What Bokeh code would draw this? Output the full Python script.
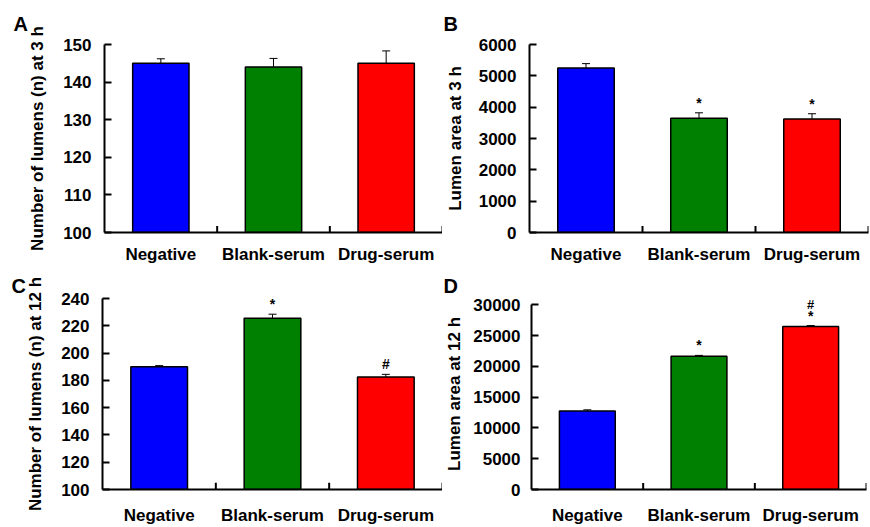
from bokeh.plotting import figure
from bokeh.layouts import column, row
from bokeh.models import (ColumnDataSource, FixedTicker, Range1d, Whisker,
                          TeeHead, LabelSet)
from bokeh.core.properties import value
from bokeh.embed import file_html
from bokeh.resources import INLINE

# ---------------- data ----------------
groups = ["Negative", "Blank-serum", "Drug-serum"]
bar_colors = ["#0000ff", "#008000", "#ff0000"]

a_values = [145, 144, 145]
a_errors = [1.2, 2.3, 3.3]
a_marks = ["", "", ""]
a_marks2 = ["", "", ""]
a_ticks = [100, 110, 120, 130, 140, 150]
a_ylabel = "Number of lumens (n) at 3 h"

b_values = [5250, 3650, 3620]
b_errors = [140, 170, 170]
b_marks = ["", "*", "*"]
b_marks2 = ["", "", ""]
b_ticks = [0, 1000, 2000, 3000, 4000, 5000, 6000]
b_ylabel = "Lumen area at 3 h"

c_values = [190, 225.6, 182.4]
c_errors = [0.8, 2.9, 2.0]
c_marks = ["", "*", "#"]
c_marks2 = ["", "", ""]
c_ticks = [100, 120, 140, 160, 180, 200, 220, 240]
c_ylabel = "Number of lumens (n) at 12 h"

d_values = [12750, 21650, 26500]
d_errors = [200, 150, 150]
d_marks = ["", "*", "*"]
d_marks2 = ["", "", "#"]
d_ticks = [0, 5000, 10000, 15000, 20000, 25000, 30000]
d_ylabel = "Lumen area at 12 h"

FONT = "Liberation Sans"


def mark_source(centers, upper, marks):
    keep = [i for i, m in enumerate(marks) if m]
    return ColumnDataSource(dict(
        x=[centers[i] for i in keep],
        y=[upper[i] for i in keep],
        t=[marks[i] for i in keep],
    ))


def make_panel(letter, values, errors, marks, marks2, ticks, ylabel,
               width, height, b_left, b_right, b_top, b_bottom,
               title_offset, title_standoff, cat_standoff, top_pad=0.0,
               tick_standoff=13, label_standoff=13):
    n = len(groups)
    centers = [i + 0.5 for i in range(n)]
    bounds = [i + 1 for i in range(n)]
    lo, hi = ticks[0], ticks[-1]
    p = figure(width=width, height=height,
               x_range=Range1d(0, n),
               y_range=Range1d(lo, hi + (hi - lo) * top_pad),
               output_backend="svg", toolbar_location=None,
               min_border_left=b_left, min_border_right=b_right,
               min_border_top=b_top, min_border_bottom=b_bottom,
               title=letter)
    p.outline_line_color = None
    p.xgrid.visible = False
    p.ygrid.visible = False
    p.background_fill_color = "white"
    p.border_fill_color = "white"

    # panel letter
    p.title.align = "left"
    p.title.offset = title_offset
    p.title.standoff = title_standoff
    p.title.text_font = FONT
    p.title.text_font_size = "20px"
    p.title.text_font_style = "bold"
    p.title.text_color = "black"

    upper = [v + e for v, e in zip(values, errors)]
    lower = [v - e for v, e in zip(values, errors)]
    src = ColumnDataSource(dict(x=centers, top=values, color=bar_colors,
                                upper=upper, lower=lower))
    p.vbar(x="x", top="top", bottom=lo, width=0.5, source=src,
           fill_color="color", line_color="black", line_width=1.5)
    w = Whisker(base="x", upper="upper", lower="lower", source=src,
                line_color="black", line_width=1,
                upper_head=TeeHead(size=8, line_color="black", line_width=1),
                lower_head=TeeHead(size=8, line_color="black", line_width=1))
    p.add_layout(w)

    # category boundary ticks pointing up from the x axis
    tick_len = (hi - lo) * 0.035
    p.segment(x0=bounds, y0=[lo] * n, x1=bounds, y1=[lo + tick_len] * n,
              line_color="black", line_width=2)

    # significance marks
    for mk, off, fs in ((marks, 10, "14px"), (marks2, 21, "13px")):
        ms = mark_source(centers, upper, mk)
        if len(ms.data["x"]):
            p.add_layout(LabelSet(x="x", y="y", text="t",
                                  source=ms, text_align="center",
                                  text_baseline="middle", y_offset=off,
                                  text_font=value(FONT), text_font_size=fs,
                                  text_font_style="bold", text_color="black"))

    # y axis
    ya = p.yaxis[0]
    ya.ticker = FixedTicker(ticks=ticks)
    ya.bounds = (lo, hi)
    ya.minor_tick_line_color = None
    ya.major_tick_in = 7
    ya.major_tick_out = 0
    ya.axis_line_width = 2
    ya.major_tick_line_width = 2
    ya.major_label_text_font = FONT
    ya.major_label_text_font_size = "17px"
    ya.major_label_text_font_style = "bold"
    ya.major_label_text_color = "black"
    ya.major_label_standoff = tick_standoff
    ya.axis_label = ylabel
    ya.axis_label_text_font = FONT
    ya.axis_label_text_font_size = "17px"
    ya.axis_label_text_font_style = "bold"
    ya.axis_label_text_color = "black"
    ya.axis_label_standoff = label_standoff

    # x axis with category labels at bar centres
    xa = p.xaxis[0]
    xa.ticker = FixedTicker(ticks=centers)
    xa.major_label_overrides = {c: g for c, g in zip(centers, groups)}
    xa.minor_tick_line_color = None
    xa.major_tick_line_color = None
    xa.major_tick_in = 0
    xa.major_tick_out = 0
    xa.axis_line_width = 2
    xa.major_label_standoff = cat_standoff
    xa.major_label_text_font = FONT
    xa.major_label_text_font_size = "17px"
    xa.major_label_text_font_style = "bold"
    xa.major_label_text_color = "black"
    return p


pa = make_panel("A", a_values, a_errors, a_marks, a_marks2, a_ticks, a_ylabel,
                442, 270, 104, 0, 44, 38, -91, 19, 12)
pb = make_panel("B", b_values, b_errors, b_marks, b_marks2, b_ticks, b_ylabel,
                428, 270, 84, 2, 44, 38, -86, 19, 12,
                tick_standoff=13, label_standoff=11)
pc = make_panel("C", c_values, c_errors, c_marks, c_marks2, c_ticks, c_ylabel,
                442, 257, 102, 0, 28, 37, -91, 4, 16)
pd = make_panel("D", d_values, d_errors, d_marks, d_marks2, d_ticks, d_ylabel,
                428, 257, 88, 4, 28, 37, -88, 4, 16, top_pad=0.035,
                tick_standoff=11, label_standoff=6)

layout = column(row(pa, pb), row(pc, pd))

with open("out.html", "w") as f:
    f.write(file_html(layout, INLINE))
